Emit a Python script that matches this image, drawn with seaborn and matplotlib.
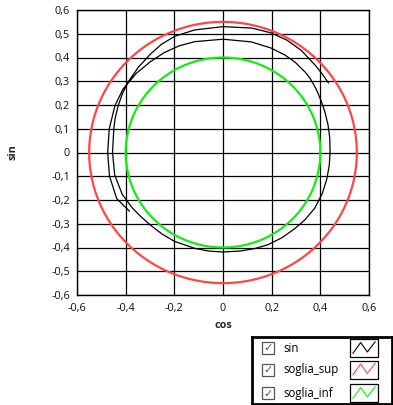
import numpy as np
import pandas as pd
import seaborn as sns
import matplotlib
matplotlib.use("Agg")
import matplotlib.pyplot as plt
from matplotlib.patches import Rectangle
from matplotlib.ticker import FuncFormatter

# ---- data ----
# black trace ("sin" vs "cos"): polar angle (degrees, along the path) and radius
sin_angle_deg = [212.7, 204, 192, 180, 168, 156, 147, 137, 128, 120, 112, 104, 90, 76,
                 66, 58, 52, 45, 41, 35, 28, 22, 15, 8, 0, -7, -14.5, -23, -32, -40,
                 -47, -56, -64.5, -72, -80, -90, -98, -106, -118, -126, -134, -141,
                 -148, -157, -168, -180, -192.7, -198, -204.7, -211, -217.2, -226,
                 -234.6, -241, -248, -257.2, -270, -282.6, -291.4, -299, -306.8,
                 -315.8, -321, -326]
sin_radius = [0.457, 0.478, 0.477, 0.474, 0.478, 0.486, 0.490, 0.488, 0.485, 0.485,
              0.484, 0.481, 0.477, 0.480, 0.482, 0.483, 0.482, 0.478, 0.475, 0.467,
              0.458, 0.452, 0.447, 0.443, 0.440, 0.440, 0.441, 0.443, 0.444, 0.440,
              0.436, 0.433, 0.430, 0.425, 0.421, 0.419, 0.419, 0.420, 0.424, 0.425,
              0.427, 0.432, 0.440, 0.450, 0.455, 0.454, 0.460, 0.466, 0.474, 0.482,
              0.490, 0.500, 0.511, 0.521, 0.528, 0.529, 0.530, 0.537, 0.541, 0.541,
              0.537, 0.528, 0.525, 0.523]
soglia_sup = 0.55
soglia_inf = 0.40
x_ticks = [-0.6, -0.4, -0.2, 0.0, 0.2, 0.4, 0.6]
y_ticks = [-0.6, -0.5, -0.4, -0.3, -0.2, -0.1, 0.0, 0.1, 0.2, 0.3, 0.4, 0.5, 0.6]
series_names = ["sin", "soglia_sup", "soglia_inf"]
series_colors = ["#000000", "#ff4646", "#14ec14"]

sns.set_style("white")
plt.rcParams["font.family"] = ["Open Sans", "DejaVu Sans"]

W, H = 393, 405
fig = plt.figure(figsize=(W / 100, H / 100), dpi=100)
L, R, T, B = 77, 369, 10, 295
ax = fig.add_axes([L / W, 1 - B / H, (R - L) / W, (B - T) / H])

a = np.deg2rad(np.array(sin_angle_deg, dtype=float))
r = np.array(sin_radius)
trace = pd.DataFrame({"cos": r * np.cos(a), "sin": r * np.sin(a)})

th = np.linspace(0, 2 * np.pi, 721)
sup = pd.DataFrame({"cos": soglia_sup * np.cos(th), "sin": soglia_sup * np.sin(th)})
inf = pd.DataFrame({"cos": soglia_inf * np.cos(th), "sin": soglia_inf * np.sin(th)})

sns.lineplot(data=sup, x="cos", y="sin", sort=False, estimator=None,
             color=series_colors[1], linewidth=1.6, ax=ax, zorder=3)
sns.lineplot(data=inf, x="cos", y="sin", sort=False, estimator=None,
             color=series_colors[2], linewidth=1.6, ax=ax, zorder=3)
sns.lineplot(data=trace, x="cos", y="sin", sort=False, estimator=None,
             color=series_colors[0], linewidth=0.9, ax=ax, zorder=4)

ax.set_xlim(-0.6, 0.6)
ax.set_ylim(-0.6, 0.6)
ax.set_xticks(x_ticks)
ax.set_yticks(y_ticks)


def fmt(v, pos=None):
    if abs(v) < 1e-9:
        return "0"
    return f"{v:.1f}".replace(".", ",")


ax.xaxis.set_major_formatter(FuncFormatter(fmt))
ax.yaxis.set_major_formatter(FuncFormatter(fmt))
ax.grid(True, color="black", linewidth=0.9)
ax.set_axisbelow(True)
for s in ax.spines.values():
    s.set_visible(True)
    s.set_color("black")
    s.set_linewidth(1.0)
ax.tick_params(axis="both", which="major", length=3, width=0.9, color="black",
               labelsize=7.8, labelcolor="#111111", direction="out")
ax.tick_params(axis="y", pad=2)
ax.tick_params(axis="x", pad=3)
ax.set_xlabel("")
ax.set_ylabel("")

fig.text(223 / W, 1 - 326 / H, "cos", ha="center", va="center",
         fontsize=7.8, fontweight="bold")
fig.text(13 / W, 1 - 152 / H, "sin", ha="center", va="center",
         fontsize=7.8, fontweight="bold", rotation=90)

# ---- legend panel ----
lx0, ly0, lx1, ly1 = 252, 337, 392, 404
lg = fig.add_axes([lx0 / W, 1 - ly1 / H, (lx1 - lx0) / W, (ly1 - ly0) / H])
lg.set_xlim(0, lx1 - lx0)
lg.set_ylim(ly1 - ly0, 0)
lg.set_xticks([])
lg.set_yticks([])
for s in lg.spines.values():
    s.set_visible(True)
    s.set_color("black")
    s.set_linewidth(2.0)
lg.set_facecolor("white")

row_y = [11, 32.5, 56]
zig = np.array([[0.1, 0.8], [0.38, 0.2], [0.62, 0.72], [0.9, 0.15]])
for name, col, yc in zip(series_names, series_colors, row_y):
    lg.add_patch(Rectangle((10, yc - 6), 12, 12, fill=False, edgecolor="#555555", linewidth=0.9))
    lg.text(16, yc + 0.5, "\u2713", ha="center", va="center", fontsize=8,
            color="#555555", family=["DejaVu Sans"])
    lg.text(31, yc, name, ha="left", va="center", fontsize=8.3, color="black")
    bx, bw, bh = 98, 28, 18
    lg.add_patch(Rectangle((bx, yc - bh / 2), bw, bh, fill=True, facecolor="white",
                           edgecolor="black", linewidth=0.9))
    lg.plot(bx + zig[:, 0] * bw, yc - bh / 2 + zig[:, 1] * bh, color=col, linewidth=0.8)

fig.savefig("out.png", dpi=100)
